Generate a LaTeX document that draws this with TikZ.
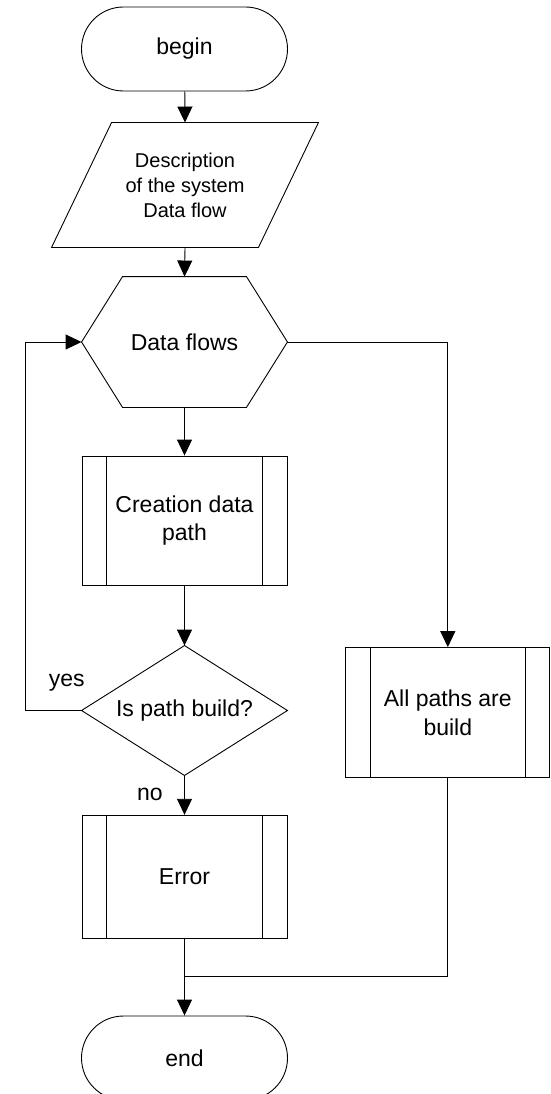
\documentclass[tikz,border=0pt]{standalone}
\usepackage{fontspec}
\setmainfont{Liberation Sans}
\usetikzlibrary{arrows.meta}
\begin{document}
\begin{tikzpicture}[x=1pt,y=-1pt,
  line width=0.9pt,
  every node/.style={inner sep=0pt, align=center, font=\fontsize{23}{28.75}\selectfont},
  flow/.style={-{Triangle[length=16pt,width=15pt]}},
  term/.style={draw, rounded corners=42pt, minimum width=206pt, minimum height=84pt},
  slot/.style={minimum width=205pt, minimum height=#1},
  proc/.style={draw, minimum width=205pt, minimum height=#1,
    path picture={
      \draw ([xshift=24.5pt]path picture bounding box.north west) -- ([xshift=24.5pt]path picture bounding box.south west);
      \draw ([xshift=-24.5pt]path picture bounding box.north east) -- ([xshift=-24.5pt]path picture bounding box.south east);}},
  small/.style={font=\fontsize{20}{25}\selectfont}
]
\useasboundingbox (0,0) rectangle (550,1094);

% start
\node[term] (begin) at (184.5,49) {begin};

% input: parallelogram
\node[slot=124pt, minimum width=206pt, small] (desc) at (185,185) {Description\\of the system\\Data flow};
\draw ([xshift=30pt]desc.north west) -- ([xshift=30pt]desc.north east)
  -- ([xshift=-30pt]desc.south east) -- ([xshift=-30pt]desc.south west) -- cycle;

% loop header: hexagon
\node[slot=130pt] (flows) at (184.5,342) {Data flows};
\draw (flows.west) -- ([xshift=41pt]flows.north west) -- ([xshift=-41pt]flows.north east)
  -- (flows.east) -- ([xshift=-41pt]flows.south east) -- ([xshift=41pt]flows.south west) -- cycle;

% processes
\node[proc=129pt] (create) at (184.5,520.5) {Creation data\\path};
\node[proc=130pt, minimum width=204pt] (paths) at (447.8,712.6) {All paths are\\build};
\node[proc=123.5pt] (error) at (184.5,877) {Error};

% decision: diamond
\node[slot=129pt] (check) at (184.5,710.5) {Is path build?};
\draw (check.north) -- (check.east) -- (check.south) -- (check.west) -- cycle;

% end
\node[term] (end) at (184.5,1058) {end};

% connectors
\coordinate (loopx) at (25.3,0);
\coordinate (join) at (184.5,976.7);

\draw[flow] (begin) -- (desc.north);
\draw[flow] (desc.south) -- (flows.north);
\draw[flow] (flows.south) -- (create.north);
\draw[flow] (create.south) -- (check.north);
\draw[flow] (check.west) -- (check.west -| loopx) |- (flows.west);
\draw[flow] (flows.east) -| (paths.north);
\draw[flow] (check.south) -- (error.north);
\draw (paths.south) |- (join);
\draw[flow] (error.south) -- (end.north);

% branch labels
\node[anchor=base] (yes) at (66.7,686.7) {yes};
\node[anchor=base] (no) at (150,800.4) {no};
\end{tikzpicture}
\end{document}
